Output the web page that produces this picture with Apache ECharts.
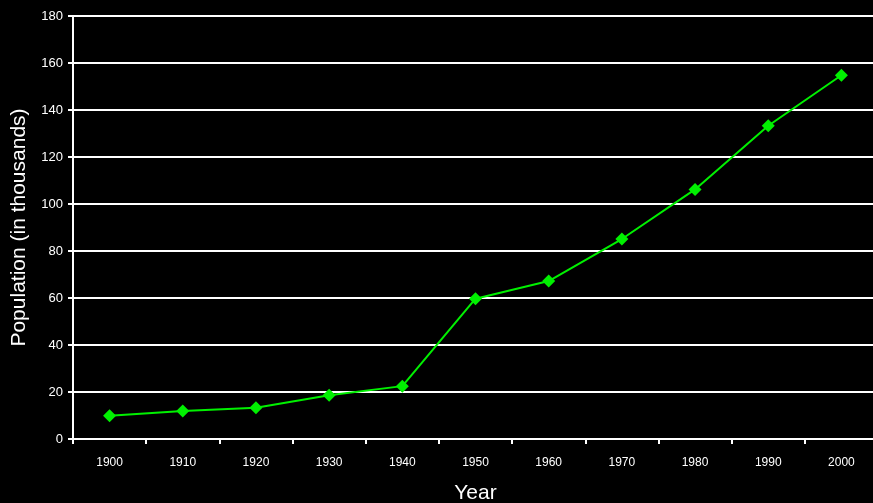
<!DOCTYPE html>
<html>
<head>
<meta charset="utf-8">
<script src="https://cdn.jsdelivr.net/npm/echarts@6/dist/echarts.min.js"></script>
<style>
  html, body { margin: 0; padding: 0; background: #000; }
  #chart { width: 873px; height: 503px; }
</style>
</head>
<body>
<div id="chart"></div>
<script>
// Population by decade (thousands)
const years = ['1900', '1910', '1920', '1930', '1940', '1950', '1960', '1970', '1980', '1990', '2000'];
const population = [9.9, 11.9, 13.3, 18.6, 22.5, 59.7, 67.2, 85.1, 106.2, 133.3, 154.8];
const yTicks = { min: 0, max: 180, step: 20 };

const chart = echarts.init(document.getElementById('chart'), null, { renderer: 'canvas' });
const font = 'Liberation Sans, Arial, sans-serif';

chart.setOption({
  backgroundColor: '#000',
  animation: false,
  grid: { left: 73, top: 16, width: 805, height: 423, containLabel: false, outerBoundsMode: 'none' },
  xAxis: {
    type: 'category',
    data: years,
    boundaryGap: true,
    name: 'Year',
    nameLocation: 'middle',
    nameGap: 44,
    nameTextStyle: { color: '#fff', fontSize: 21, fontFamily: font },
    axisLine: { lineStyle: { color: '#fff', width: 2 } },
    axisTick: { show: true, alignWithLabel: false, length: 5, lineStyle: { color: '#fff', width: 2 } },
    axisLabel: { color: '#fff', fontSize: 12, fontFamily: font, margin: 18 },
    splitLine: { show: false }
  },
  yAxis: {
    type: 'value',
    min: yTicks.min,
    max: yTicks.max,
    interval: yTicks.step,
    name: 'Population (in thousands)',
    nameLocation: 'middle',
    nameGap: 43,
    nameTextStyle: { color: '#fff', fontSize: 21, fontFamily: font },
    axisLine: { show: true, lineStyle: { color: '#fff', width: 2 } },
    axisTick: { show: true, length: 5, lineStyle: { color: '#fff', width: 2 } },
    axisLabel: { color: '#fff', fontSize: 13, fontFamily: font, margin: 10 },
    splitLine: { show: true, lineStyle: { color: '#fff', width: 2 } }
  },
  series: [{
    type: 'line',
    data: population,
    symbol: 'diamond',
    symbolSize: 13,
    lineStyle: { color: '#00f000', width: 2 },
    itemStyle: { color: '#00f000' }
  }]
});
</script>
</body>
</html>
